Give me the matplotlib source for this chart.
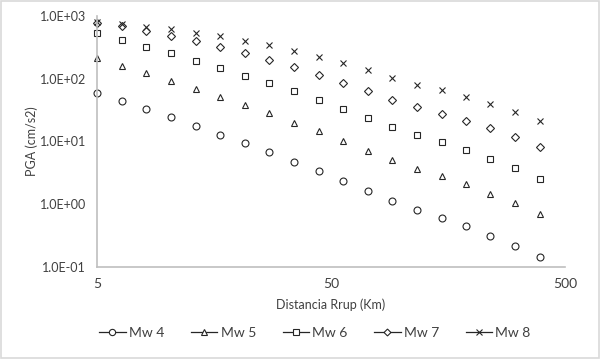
import matplotlib
matplotlib.use("Agg")
import matplotlib.pyplot as plt
from matplotlib.lines import Line2D
from matplotlib.patches import Rectangle
from matplotlib.ticker import FixedLocator, FixedFormatter, NullLocator

plt.rcParams['font.family'] = ['Lato', 'DejaVu Sans']

distancia = [5, 6.4, 8.1, 10.4, 13.2, 16.8, 21.5, 27.2, 34.6, 44.3, 56.3, 71.7,
             91.4, 116.6, 148.5, 189, 240, 306, 392]
mw4 = [58.6, 44.7, 33.0, 24.3, 17.7, 12.8, 9.4, 6.7, 4.8, 3.35, 2.35, 1.64,
       1.11, 0.81, 0.61, 0.45, 0.315, 0.218, 0.144]
mw5 = [212, 161, 122, 93, 69, 52, 38, 28, 20, 14.7, 10.2, 7.1,
       5.0, 3.65, 2.8, 2.1, 1.47, 1.03, 0.70]
mw6 = [530, 415, 324, 255, 194, 148, 112, 84.5, 63.8, 46.4, 33.3, 23.9,
       17.0, 12.7, 9.7, 7.2, 5.3, 3.8, 2.55]
mw7 = [782, 693, 583, 485, 395, 321, 255, 197, 152, 115, 85.5, 63.8,
       46.4, 35.5, 27.7, 21.2, 16.2, 11.8, 8.2]
mw8 = [811, 746, 675, 614, 542, 480, 404, 345, 280, 224, 178, 136,
       103, 80, 66, 52, 40, 29.5, 21.2]

series_labels = ["Mw 4", "Mw 5", "Mw 6", "Mw 7", "Mw 8"]
markers = ["o", "^", "s", "D", "x"]
x_ticks = [5, 50, 500]
x_ticklabels = ["5", "50", "500"]
y_ticks = [0.1, 1, 10, 100, 1000]
y_ticklabels = ["1.0E-01", "1.0E+00", "1.0E+01", "1.0E+02", "1.0E+03"]

txt = "#404040"
fig = plt.figure(figsize=(6.0, 3.59), dpi=100)
ax = fig.add_axes([97/600, 92/359, 468/600, 251/359])

sizes = {"o": 5, "^": 5, "s": 5, "D": 4, "x": 5}
for ys, lab, m in zip([mw4, mw5, mw6, mw7, mw8], series_labels, markers):
    ax.plot(distancia, ys, linestyle="none", marker=m, markersize=sizes[m],
            markerfacecolor="none", markeredgecolor="#262626", markeredgewidth=0.8,
            label=lab, clip_on=False)

ax.set_xscale("log")
ax.set_yscale("log")
ax.set_xlim(5, 500)
ax.set_ylim(0.1, 1000)
ax.xaxis.set_major_locator(FixedLocator(x_ticks))
ax.xaxis.set_major_formatter(FixedFormatter(x_ticklabels))
ax.xaxis.set_minor_locator(NullLocator())
ax.yaxis.set_major_locator(FixedLocator(y_ticks))
ax.yaxis.set_major_formatter(FixedFormatter(y_ticklabels))
ax.yaxis.set_minor_locator(NullLocator())
ax.tick_params(axis="x", length=0, pad=8, labelsize=10, labelcolor=txt)
ax.tick_params(axis="y", length=0, pad=8, labelsize=9, labelcolor=txt)
for s in ["top", "right"]:
    ax.spines[s].set_visible(False)
for s in ["left", "bottom"]:
    ax.spines[s].set_color("#bfbfbf")
    ax.spines[s].set_linewidth(1.2)

ax.set_xlabel("Distancia Rrup (Km)", fontsize=9, color=txt, labelpad=6)
ax.set_ylabel("PGA (cm/s2)", fontsize=9, color=txt, labelpad=8)
ax.yaxis.set_label_coords(-0.125, 0.5)

handles = [Line2D([0], [0], color="#262626", lw=0.9, marker=m, markersize=sizes[m] - 0.5,
                  markerfacecolor="white", markeredgecolor="#262626", markeredgewidth=0.8)
           for m in markers]
fig.legend(handles, series_labels, loc="center", bbox_to_anchor=(315/600, 1 - 333/359),
           ncol=5, frameon=False, fontsize=10, labelcolor=txt, handlelength=1.9,
           handletextpad=0.25, columnspacing=1.9)

fig.patches.append(Rectangle((0.001, 0.002), 0.997, 0.995, transform=fig.transFigure,
                             fill=False, edgecolor="#d9d9d9", linewidth=1.2))

fig.savefig("out.png", dpi=100)
